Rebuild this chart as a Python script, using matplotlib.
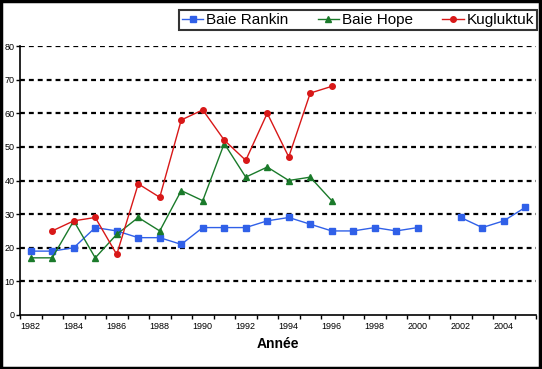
import numpy as np
import matplotlib.pyplot as plt
from matplotlib.patches import Rectangle

years = list(range(1982, 2006))
rankin = [19, 19, 20, 26, 25, 23, 23, 21, 26, 26, 26, 28, 29, 27, 25, 25, 26, 25, 26,
          np.nan, 29, 26, 28, 32]
hope_years = list(range(1982, 1997))
hope = [17, 17, 28, 17, 24, 29, 25, 37, 34, 51, 41, 44, 40, 41, 34]
kug_years = list(range(1983, 1997))
kugluktuk = [25, 28, 29, 18, 39, 35, 58, 61, 52, 46, 60, 47, 66, 68]

plt.rcParams['font.family'] = ['Liberation Sans', 'DejaVu Sans']

fig = plt.figure(figsize=(5.42, 3.69), dpi=100)
ax = fig.add_axes([20 / 542, 1 - 315 / 369, (536 - 20) / 542, (315 - 46) / 369])

ax.plot(years, rankin, color="#3060e8", marker="s", markersize=4.5, lw=1.0,
        markeredgecolor="#3060e8", label="Baie Rankin")
ax.plot(hope_years, hope, color="#1a7a2a", marker="^", markersize=4.5, lw=1.0,
        markeredgecolor="#1a7a2a", label="Baie Hope")
ax.plot(kug_years, kugluktuk, color="#d81818", marker="o", markersize=4, lw=1.0,
        markeredgecolor="#d81818", label="Kugluktuk")

ax.set_xlim(1981.5, 2005.5)
ax.set_ylim(0, 80)
ax.set_yticks(range(0, 81, 10))
ax.set_xticks(range(1982, 2005, 2))
ax.set_xticks(np.arange(1981.5, 2006, 1), minor=True)
ax.tick_params(axis="x", which="major", length=0, labelsize=6.5, pad=5)
ax.tick_params(axis="x", which="minor", length=3, width=1, direction="out")
ax.tick_params(axis="y", length=3, width=1, labelsize=6.5, pad=1)

for v in range(10, 81, 10):
    ax.axhline(v, color="black", lw=1.6, ls=(0, (2.2, 1.8)), zorder=0)

for s in ["top", "right"]:
    ax.spines[s].set_visible(False)
for s in ["left", "bottom"]:
    ax.spines[s].set_linewidth(1.2)

ax.set_xlabel("Année", fontsize=10, fontweight="bold", labelpad=4)

leg = fig.legend(loc="upper right", bbox_to_anchor=(537 / 542, 1 - 10 / 369), ncol=3,
                 frameon=True, fancybox=False, edgecolor="black",
                 prop={"size": 11}, handlelength=1.4, borderaxespad=0,
                 columnspacing=1.9, handletextpad=0.2, borderpad=0.2)
leg.get_frame().set_linewidth(1.5)

fig.patches.append(Rectangle((0.002, 0.003), 0.995, 0.993, transform=fig.transFigure,
                             fill=False, edgecolor="black", lw=2.5))

fig.savefig("out.png", dpi=100)
